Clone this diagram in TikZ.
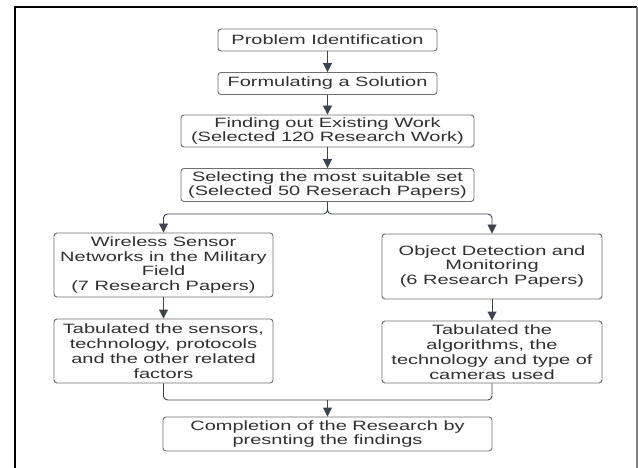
\documentclass[tikz,border=0pt]{standalone}
\usepackage{fontspec}
\newfontfamily\diagfont[FakeStretch=1.48]{Liberation Sans}
\usetikzlibrary{arrows.meta}
\definecolor{txt}{HTML}{303030}
\definecolor{bord}{HTML}{6E6E6E}
\definecolor{conncol}{HTML}{3D4450}
\begin{document}
\begin{tikzpicture}[x=1pt,y=-1pt,
  box/.style={draw=bord, line width=0.9pt, rounded corners=3pt, align=center,
    inner sep=0pt, text=txt, font=\diagfont\fontsize{13.5}{14.8}\selectfont},
  conn/.style={draw=conncol, line width=0.9pt, rounded corners=4pt,
    -{Triangle[width=9pt,length=9pt]}},
  plain/.style={draw=conncol, line width=0.9pt, rounded corners=4pt}]
\useasboundingbox (0,0) rectangle (638,468);
% frame
\draw[black, line width=2.2pt] (15,468) -- (15,7) -- (637,7);
\draw[gray, line width=1.5pt] (637,7) -- (637,468);
% nodes
\node[box, minimum width=219pt, minimum height=22pt] (p1) at (327.5,40) {Problem Identification};
\node[box, minimum width=219pt, minimum height=22pt] (p2) at (327.5,83.5) {Formulating a Solution};
\node[box, minimum width=293pt, minimum height=32pt] (p3) at (327.5,131) {Finding out Existing Work\\(Selected 120 Research Work)};
\node[box, minimum width=293pt, minimum height=33pt] (p4) at (327.5,185) {Selecting the most suitable set\\(Selected 50 Reserach Papers)};
\node[box, minimum width=219pt, minimum height=64pt] (w) at (163.5,265) {Wireless Sensor\\Networks in the Military\\Field\\(7 Research Papers)};
\node[box, minimum width=220pt, minimum height=65pt] (o) at (492,266.5) {Object Detection and\\Monitoring\\(6 Research Papers)};
\node[box, minimum width=219pt, minimum height=64pt] (t1) at (163.5,351) {Tabulated the sensors,\\technology, protocols\\and the other related\\factors};
\node[box, minimum width=220pt, minimum height=62pt] (t2) at (492,352) {Tabulated the\\algorithms, the\\technology and type of\\cameras used};
\node[box, minimum width=329pt, minimum height=34pt] (c) at (327.5,434) {Completion of the Research by\\presnting the findings};
% connectors
\draw[conn] (p1) -- (p2);
\draw[conn] (p2) -- (p3);
\draw[conn] (p3) -- (p4);
\coordinate (split) at (327.5,214);
\coordinate (merge) at (327.5,400);
\draw[conn] (p4.south) |- (split) -| (w.north);
\draw[conn] (p4.south) |- (split) -| (o.north);
\draw[conn] (w) -- (t1);
\draw[conn] (o) -- (t2);
\draw[plain] (t1.south) |- (merge);
\draw[plain] (t2.south) |- (merge);
\draw[conn] (merge) -- (c.north);
\end{tikzpicture}
\end{document}
